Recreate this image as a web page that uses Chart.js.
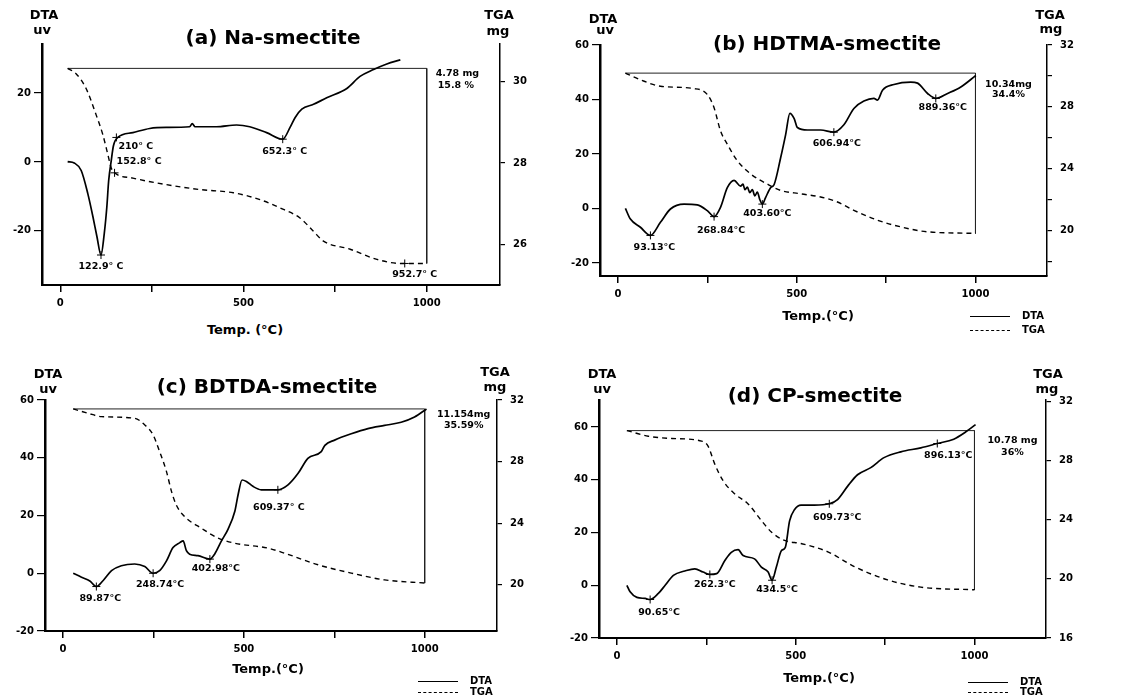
<!DOCTYPE html>
<html><head><meta charset="utf-8">
<script src="https://cdn.jsdelivr.net/npm/chart.js@4.4.1/dist/chart.umd.min.js"></script>
<style>
body{margin:0;background:#fff;width:1126px;height:699px;position:relative;overflow:hidden;font-family:"DejaVu Sans","Liberation Sans",Arial,sans-serif;font-weight:bold;color:#000}
.t{position:absolute;white-space:nowrap;transform:translate(-50%,-50%);line-height:1}
.l{position:absolute;white-space:nowrap;transform:translate(0,-50%);line-height:1;font-size:10px}
.ln{position:absolute;width:40px;height:0;border-top:1.5px solid #000}
.ln.d{border-top:1.5px dashed #000}
canvas{position:absolute}
</style></head><body>
<script>
// ---------------- DATA ----------------
// x ticks (°C)
const xTicks = [0, 250, 500, 750, 1000];
const xTickLabels = [0, 500, 1000];

// (a) Na-smectite
const aDtaT = [20,38,57,75,89,100,111,120,127,132,139,145,157,198,244,289,353,360,368,426,481,517,563,607,627,641,659,691,727,782,818,855,891,928];
const aDtaV = [0.1,-0.3,-2.5,-9.2,-15.9,-21.7,-27,-20.7,-13,-5.4,0.4,4.7,7.1,8.5,9.7,10,10.2,11.1,10.2,10.2,10.7,10.2,8.5,6.6,10,12.9,15.3,16.7,18.6,21.3,24.8,26.8,28.4,29.6];
const aTgaT = [20,43,70,98,116,130,139,148,198,289,380,472,545,609,654,690,718,791,864,928,1000];
const aTgaV = [30.33,30.2,29.84,29.18,28.7,28.2,27.88,27.76,27.63,27.47,27.35,27.27,27.1,26.86,26.65,26.33,26.08,25.88,25.63,25.53,25.53];
const aYTicks = [-20, 0, 20];
const aY2Ticks = [26, 28, 30];
const aPeakText = ['122.9° C', '210° C', '652.3° C'];
const aPeakT = [111, 153, 607];
const aPeakV = [-27, 7.1, 6.6];
const aTgaPeakText = ['152.8° C', '952.7° C'];
const aTgaPeakT = [148, 940];
const aTgaPeakV = [27.76, 25.53];
const aLoss = ['4.78 mg', '15.8 %'];

// (b) HDTMA-smectite
const bDtaT = [21,35,63,91,119,147,185,222,250,269,287,306,325,343,350,355,362,369,376,383,390,397,404,413,427,437,455,469,481,493,502,530,567,604,632,660,688,716,726,740,772,819,838,866,889,922,959,1001];
const bDtaV = [0,-3.9,-6.9,-9.9,-5.1,-0.2,1.6,1.3,-0.8,-3.0,0.4,7.6,10.3,8.2,8.9,6.9,7.8,5.8,6.9,4.6,6,3.2,1.6,4,7.6,8.8,18.5,27,34.9,33,29.7,28.8,28.8,28,30.7,36.7,39.4,40.4,39.8,43.4,45.5,46.4,46,42.2,40.4,42.2,44.6,48.8];
const bTgaT = [21,63,119,213,250,269,287,306,334,371,418,455,511,567,614,660,726,772,866,1001];
const bTgaV = [30.18,29.75,29.33,29.18,28.8,27.94,26.44,25.58,24.51,23.66,23.0,22.59,22.37,22.16,21.84,21.3,20.66,20.34,19.91,19.81];
const bYTicks = [-20, 0, 20, 40, 60];
const bY2Ticks = [18, 20, 22, 24, 26, 28, 30, 32];
const bY2Labels = [20, 24, 28, 32];
const bPeakText = ['93.13°C', '268.84°C', '403.60°C', '606.94°C', '889.36°C'];
const bPeakT = [91, 269, 404, 604, 889];
const bPeakV = [-9.9, -3.0, 1.6, 28, 40.4];
const bLoss = ['10.34mg', '34.4%'];

// (c) BDTDA-smectite
const cDtaT = [28,51,74,92,111,134,161,198,226,249,267,286,304,323,332,341,350,373,406,419,438,456,475,484,495,507,525,548,594,622,650,677,714,724,751,797,843,889,935,972,1005];
const cDtaV = [0,-1.4,-2.7,-4.6,-2.5,0.9,2.6,3.2,2.3,0,0.9,4.3,8.9,10.6,11.2,7.8,6.6,6.1,4.9,6.6,11.2,15.2,21.5,27.2,32.3,31.8,30.1,28.9,28.9,30.6,34.6,39.8,42.1,44.3,46.1,48.3,50.1,51.2,52.3,54.1,56.9];
const cTgaT = [28,69,106,198,226,249,267,286,300,313,336,382,429,475,567,613,705,797,889,1005];
const cTgaV = [31.42,31.14,30.92,30.81,30.38,29.73,28.65,27.35,26.05,25.19,24.43,23.68,23.03,22.7,22.38,22.05,21.3,20.76,20.32,20.11];
const cYTicks = [-20, 0, 20, 40, 60];
const cY2Ticks = [20, 24, 28, 32];
const cPeakText = ['89.87°C', '248.74°C', '402.98°C', '609.37° C'];
const cPeakT = [92, 249, 406, 594];
const cPeakV = [-4.6, 0, 4.9, 28.9];
const cLoss = ['11.154mg', '35.59%'];

// (d) CP-smectite
const dDtaT = [28,37,56,79,93,116,135,158,190,218,241,260,279,302,320,339,353,385,404,423,434,446,460,471,483,497,515,552,594,617,645,673,710,747,794,850,896,942,975,1003];
const dDtaV = [0,-2.5,-4.6,-5,-5.4,-3.1,0,3.75,5.4,6.25,5,4.1,4.4,9.4,12.5,13.5,11.25,10,6.9,5,1.9,6.9,13.1,14.4,24.4,28.75,30.4,30.4,30.9,32.5,37.5,41.9,44.6,48.4,50.6,52.1,53.75,55.4,58.1,60.9];
const dTgaT = [28,88,153,237,255,274,297,330,367,404,432,469,515,590,664,757,850,1000];
const dTgaV = [30.03,29.65,29.5,29.32,28.98,27.75,26.64,25.74,25.07,23.95,23.17,22.6,22.39,21.83,20.83,19.93,19.44,19.26];
const dYTicks = [-20, 0, 20, 40, 60];
const dY2Ticks = [16, 20, 24, 28, 32];
const dPeakText = ['90.65°C', '262.3°C', '434.5°C', '609.73°C', '896.13°C'];
const dPeakT = [93, 260, 434, 594, 896];
const dPeakV = [-5.4, 4.1, 1.9, 30.9, 53.75];
const dLoss = ['10.78 mg', '36%'];

// ---------------- RENDER ----------------
const FONT = '"DejaVu Sans", "Liberation Sans", Arial, sans-serif';
Chart.defaults.animation = false;
Chart.defaults.font.family = FONT;
Chart.defaults.font.weight = 'bold';
Chart.defaults.color = '#000';

function pts(T, V) { return T.map((t, i) => ({x: t, y: V[i]})); }

function addText(txt, x, y, size, cls) {
  const d = document.createElement('div');
  d.className = cls || 't';
  d.textContent = txt;
  d.style.left = x + 'px'; d.style.top = y + 'px';
  d.style.fontSize = size + 'px';
  document.body.appendChild(d);
}

function panel(p) {
  const L = p.area[0], R = p.area[1], T = p.area[2], B = p.area[3];
  const padL = 40, padR = 45, padT = 12, padB = 34;
  const c = document.createElement('canvas');
  c.width = R - L + padL + padR; c.height = B - T + padT + padB;
  c.style.left = (L - padL) + 'px'; c.style.top = (T - padT) + 'px';
  document.body.appendChild(c);
  const tgaStart = p.tgaV[0], tgaEnd = p.tgaV[p.tgaV.length - 1];
  const tickFont = {size: 10, weight: 'bold'};
  const labelPlugin = {
    id: 'lbl',
    afterDatasetsDraw(chart) {
      const ctx = chart.ctx, xs = chart.scales.x;
      ctx.save();
      ctx.fillStyle = '#000';
      ctx.font = 'bold 9.5px ' + FONT;
      ctx.textBaseline = 'middle';
      p.labels.forEach(l => {
        const px = xs.getPixelForValue(l.t) + l.dx;
        const py = chart.scales[l.axis].getPixelForValue(l.v) + l.dy;
        ctx.textAlign = l.align || 'center';
        ctx.fillText(l.text, px, py);
      });
      ctx.restore();
    }
  };
  new Chart(c, {
    type: 'line',
    data: {datasets: [
      {data: pts(p.dtaT, p.dtaV), yAxisID: 'y', borderColor: '#000', borderWidth: 1.7, pointRadius: 0, cubicInterpolationMode: 'monotone'},
      {data: pts(p.tgaT, p.tgaV), yAxisID: 'y2', borderColor: '#000', borderWidth: 1.4, borderDash: [5, 4], pointRadius: 0, cubicInterpolationMode: 'monotone'},
      {data: [{x: p.tgaT[0], y: tgaStart}, {x: 1000, y: tgaStart}, {x: 1000, y: tgaEnd}], yAxisID: 'y2', borderColor: '#222', borderWidth: 1, pointRadius: 0, tension: 0},
      {data: pts(p.pkT, p.pkV), yAxisID: 'y', showLine: false, pointStyle: 'cross', pointRadius: 4, borderColor: '#000', borderWidth: 1},
      {data: pts(p.tpkT || [], p.tpkV || []), yAxisID: 'y2', showLine: false, pointStyle: 'cross', pointRadius: 4, borderColor: '#000', borderWidth: 1}
    ]},
    options: {
      responsive: false, devicePixelRatio: 1,
      layout: {padding: {top: padT, left: 0, right: 0, bottom: 0}},
      plugins: {legend: {display: false}, tooltip: {enabled: false}},
      scales: {
        x: {type: 'linear', min: -50, max: 1200,
          afterFit(s) { s.height = padB; },
          afterBuildTicks(s) { s.ticks = xTicks.map(v => ({value: v})); },
          ticks: {font: tickFont, color: '#000', padding: 5, maxRotation: 0, autoSkip: false,
            callback: v => xTickLabels.includes(v) ? String(v) : ''},
          grid: {drawOnChartArea: false, drawTicks: true, tickLength: 7, color: '#000', lineWidth: 1.5},
          border: {display: true, color: '#000', width: 2}},
        y: {type: 'linear', position: 'left', min: p.y[0], max: p.y[1],
          afterFit(s) { s.width = padL; },
          afterBuildTicks(s) { s.ticks = p.yTicks.map(v => ({value: v})); },
          ticks: {font: tickFont, color: '#000', padding: 3, autoSkip: false},
          grid: {drawOnChartArea: false, drawTicks: true, tickLength: 8, color: '#000', lineWidth: 1.2},
          border: {display: true, color: '#000', width: 2.5}},
        y2: {type: 'linear', position: 'right', min: p.y2[0], max: p.y2[1],
          afterFit(s) { s.width = padR; },
          afterBuildTicks(s) { s.ticks = p.y2Ticks.map(v => ({value: v})); },
          ticks: {font: tickFont, color: '#000', padding: 8, autoSkip: false,
            callback: v => (p.y2Labels ? (p.y2Labels.includes(v) ? String(v) : '') : String(v))},
          grid: {drawOnChartArea: false, drawTicks: true, tickLength: 5, color: '#000', lineWidth: 1.2},
          border: {display: true, color: '#000', width: 1.5, dash: [5, 3]}}
      }
    },
    plugins: [labelPlugin]
  });
}

function mk(text, t, v, axis, off) { return {text, t, v, axis, dx: off[0], dy: off[1], align: off[2]}; }

// (a)
const aOff = [[0, 12], [2, 9, 'left'], [2, 12]];
const aTOff = [[2, -11, 'left'], [10, 11]];
panel({area: [42, 500, 42, 285], y: [-35.7, 34.2], y2: [25, 30.93], yTicks: aYTicks, y2Ticks: aY2Ticks,
  dtaT: aDtaT, dtaV: aDtaV, tgaT: aTgaT, tgaV: aTgaV, pkT: aPeakT, pkV: aPeakV, tpkT: aTgaPeakT, tpkV: aTgaPeakV,
  labels: aPeakText.map((s, i) => mk(s, aPeakT[i], aPeakV[i], 'y', aOff[i]))
    .concat(aTgaPeakText.map((s, i) => mk(s, aTgaPeakT[i], aTgaPeakV[i], 'y2', aTOff[i])))
    .concat([mk(aLoss[0], 1000, aTgaV[0], 'y2', [9, 5, 'left']), mk(aLoss[1], 1000, aTgaV[0], 'y2', [11, 17, 'left'])])});

// (b)
const bOff = [[4, 12], [7, 14], [5, 9], [3, 11], [7, 9]];
panel({area: [600, 1047, 43, 276], y: [-24.8, 60], y2: [17.05, 32], yTicks: bYTicks, y2Ticks: bY2Ticks, y2Labels: bY2Labels,
  dtaT: bDtaT, dtaV: bDtaV, tgaT: bTgaT, tgaV: bTgaV, pkT: bPeakT, pkV: bPeakV,
  labels: bPeakText.map((s, i) => mk(s, bPeakT[i], bPeakV[i], 'y', bOff[i]))
    .concat([mk(bLoss[0], 1000, bTgaV[0], 'y2', [33, 11]), mk(bLoss[1], 1000, bTgaV[0], 'y2', [33, 21])])});

// (c)
const cOff = [[4, 12], [7, 11], [6, 9], [1, 18]];
panel({area: [45, 497, 398, 631], y: [-20, 60], y2: [17, 32], yTicks: cYTicks, y2Ticks: cY2Ticks,
  dtaT: cDtaT, dtaV: cDtaV, tgaT: cTgaT, tgaV: cTgaV, pkT: cPeakT, pkV: cPeakV,
  labels: cPeakText.map((s, i) => mk(s, cPeakT[i], cPeakV[i], 'y', cOff[i]))
    .concat([mk(cLoss[0], 1000, cTgaV[0], 'y2', [39, 6]), mk(cLoss[1], 1000, cTgaV[0], 'y2', [39, 17])])});

// (d)
const dOff = [[9, 13], [5, 10], [5, 9], [8, 14], [11, 12]];
panel({area: [599, 1046, 398, 638], y: [-20, 70.25], y2: [16, 32.1], yTicks: dYTicks, y2Ticks: dY2Ticks,
  dtaT: dDtaT, dtaV: dDtaV, tgaT: dTgaT, tgaV: dTgaV, pkT: dPeakT, pkV: dPeakV,
  labels: dPeakText.map((s, i) => mk(s, dPeakT[i], dPeakV[i], 'y', dOff[i]))
    .concat([mk(dLoss[0], 1000, dTgaV[0], 'y2', [38, 10]), mk(dLoss[1], 1000, dTgaV[0], 'y2', [38, 22])])});

// titles and axis captions
addText('(a) Na-smectite', 273, 37, 20);
addText('(b) HDTMA-smectite', 827, 43, 20);
addText('(c) BDTDA-smectite', 267, 386, 20);
addText('(d) CP-smectite', 815, 395, 20);
[[44, 14, 42, 29, 499, 14, 498, 30], [603, 18, 605, 29, 1050, 14, 1051, 28],
 [48, 373, 48, 388, 495, 371, 495, 386], [602, 373, 602, 388, 1048, 373, 1047, 388]].forEach(q => {
  addText('DTA', q[0], q[1], 13); addText('uv', q[2], q[3], 13);
  addText('TGA', q[4], q[5], 13); addText('mg', q[6], q[7], 13);
});
addText('Temp. (°C)', 245, 329, 13);
addText('Temp.(°C)', 818, 315, 13);
addText('Temp.(°C)', 268, 668, 13);
addText('Temp.(°C)', 819, 677, 13);

// legends
function legend(x, y1, y2) {
  const a = document.createElement('div'); a.className = 'ln'; a.style.left = x + 'px'; a.style.top = y1 + 'px'; document.body.appendChild(a);
  const b = document.createElement('div'); b.className = 'ln d'; b.style.left = x + 'px'; b.style.top = y2 + 'px'; document.body.appendChild(b);
  addText('DTA', x + 52, y1, 10, 'l'); addText('TGA', x + 52, y2, 10, 'l');
}
legend(970, 316, 330);
legend(418, 681, 692);
legend(968, 682, 692);
</script>
</body></html>
